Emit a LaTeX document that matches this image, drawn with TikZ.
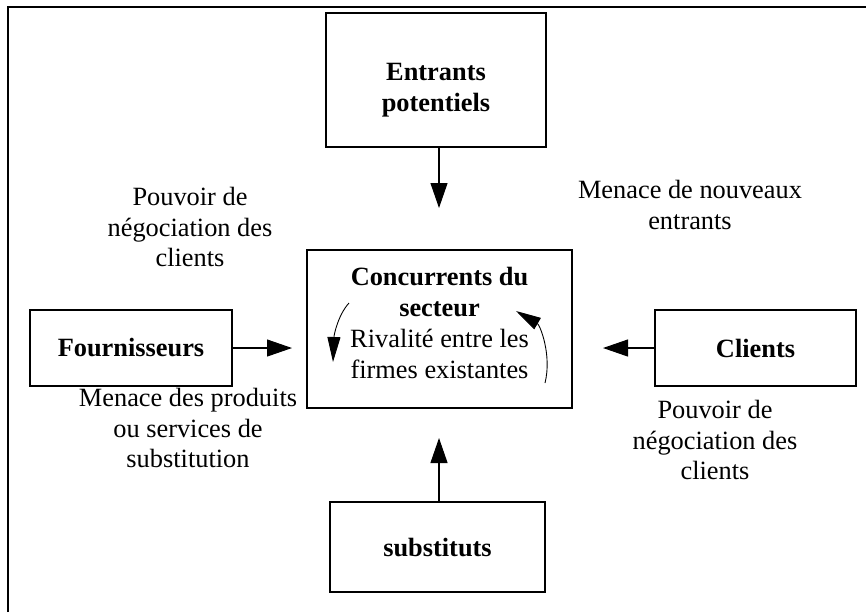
\documentclass[tikz,border=0pt]{standalone}
\usepackage{fontspec}
\setmainfont{Liberation Serif}
\usetikzlibrary{arrows.meta}

\newcommand{\bodysize}{\fontsize{15}{17.6}\selectfont}

\tikzset{
  box/.style={draw, line width=0.7pt, align=center, inner sep=0pt, font=\bodysize},
  lbl/.style={align=center, inner sep=0pt, font=\bodysize},
  force/.style={line width=0.6pt, -{Triangle[length=5mm,width=3.4mm]}},
  rival/.style={line width=0.5pt, -{Triangle[length=5mm,width=2.6mm]}}
}

\begin{document}
\begin{tikzpicture}[x=0.2mm, y=-0.2mm]
\useasboundingbox (0,0) rectangle (866,612);

% Frame
\draw[line width=1pt] (8,612) -- (8,7) -- (866,7);

% Forces
\node[box, minimum width=44mm, minimum height=26.8mm,
  label={[lbl, yshift=-2mm]center:\textbf{Entrants}\\\textbf{potentiels}}] (entrants) at (436,80) {};
\node[box, minimum width=53mm, minimum height=31.6mm,
  label={[lbl, yshift=1.2mm]center:\textbf{Concurrents du}\\\textbf{secteur}\\Rivalité entre les\\firmes existantes}] (secteur) at (439.5,329) {};
\node[box, minimum width=40.4mm, minimum height=15.2mm] (fournisseurs) at (131,348) {\textbf{Fournisseurs}};
\node[box, minimum width=40.2mm, minimum height=15.2mm] (clients) at (755.5,348) {\textbf{Clients}};
\node[box, minimum width=43mm, minimum height=18mm] (substituts) at (437.5,547) {\textbf{substituts}};

% Arrow tips
\coordinate (tipN) at (439,208);
\coordinate (tipW) at (292,348);
\coordinate (tipE) at (603,348);
\coordinate (tipS) at (439,438);

\draw[force] (entrants.south -| tipN) -- (tipN);
\draw[force] (fournisseurs.east) -- (tipW);
\draw[force] (clients.west) -- (tipE);
\draw[force] (substituts.north -| tipS) -- (tipS);

% Rivalry
\draw[rival] (349,303) .. controls (338,315) and (334,335) .. (333,362);
\draw[rival] (545,383) .. controls (552,355) and (540,325) .. (516,311);

% Labels
\node[lbl] (pouvoirA) at (190,227) {Pouvoir de\\négociation des\\clients};
\node[lbl] (menaceN) at (690,205) {Menace de nouveaux\\entrants};
\node[lbl] (menaceS) at (188,428) {Menace des produits\\ou services de\\substitution};
\node[lbl] (pouvoirB) at (715,440) {Pouvoir de\\négociation des\\clients};

\end{tikzpicture}
\end{document}
